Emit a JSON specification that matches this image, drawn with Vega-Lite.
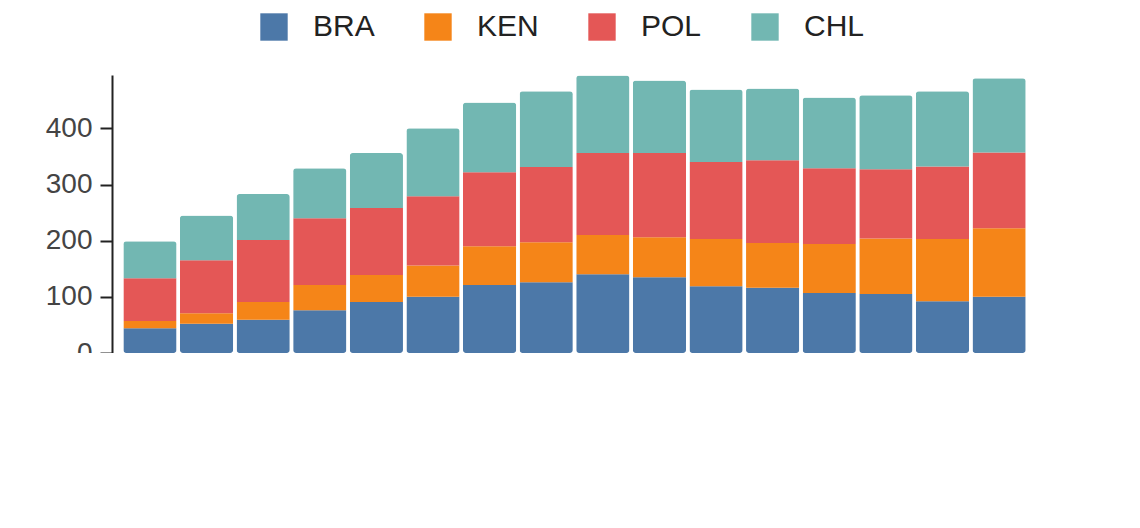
{
  "$schema": "https://vega.github.io/schema/vega-lite/v6.json",
  "width": 925,
  "height": 278,
  "autosize": {"type": "none"},
  "padding": {"left": 112, "top": 75, "right": 0, "bottom": 0},
  "data": {"values": [
    {"year":"2005","c":"BRA","v":44},{"year":"2005","c":"KEN","v":13},{"year":"2005","c":"POL","v":76},{"year":"2005","c":"CHL","v":66},
    {"year":"2006","c":"BRA","v":52},{"year":"2006","c":"KEN","v":19},{"year":"2006","c":"POL","v":94},{"year":"2006","c":"CHL","v":80},
    {"year":"2007","c":"BRA","v":59},{"year":"2007","c":"KEN","v":32},{"year":"2007","c":"POL","v":110},{"year":"2007","c":"CHL","v":82},
    {"year":"2008","c":"BRA","v":76},{"year":"2008","c":"KEN","v":45},{"year":"2008","c":"POL","v":119},{"year":"2008","c":"CHL","v":89},
    {"year":"2009","c":"BRA","v":91},{"year":"2009","c":"KEN","v":48},{"year":"2009","c":"POL","v":119},{"year":"2009","c":"CHL","v":98},
    {"year":"2010","c":"BRA","v":100},{"year":"2010","c":"KEN","v":56},{"year":"2010","c":"POL","v":123},{"year":"2010","c":"CHL","v":121},
    {"year":"2011","c":"BRA","v":121},{"year":"2011","c":"KEN","v":69},{"year":"2011","c":"POL","v":132},{"year":"2011","c":"CHL","v":124},
    {"year":"2012","c":"BRA","v":126},{"year":"2012","c":"KEN","v":71},{"year":"2012","c":"POL","v":134},{"year":"2012","c":"CHL","v":135},
    {"year":"2013","c":"BRA","v":140},{"year":"2013","c":"KEN","v":70},{"year":"2013","c":"POL","v":146},{"year":"2013","c":"CHL","v":138},
    {"year":"2014","c":"BRA","v":135},{"year":"2014","c":"KEN","v":71},{"year":"2014","c":"POL","v":150},{"year":"2014","c":"CHL","v":129},
    {"year":"2015","c":"BRA","v":119},{"year":"2015","c":"KEN","v":84},{"year":"2015","c":"POL","v":137},{"year":"2015","c":"CHL","v":129},
    {"year":"2016","c":"BRA","v":116},{"year":"2016","c":"KEN","v":80},{"year":"2016","c":"POL","v":147},{"year":"2016","c":"CHL","v":128},
    {"year":"2017","c":"BRA","v":107},{"year":"2017","c":"KEN","v":87},{"year":"2017","c":"POL","v":135},{"year":"2017","c":"CHL","v":126},
    {"year":"2018","c":"BRA","v":105},{"year":"2018","c":"KEN","v":99},{"year":"2018","c":"POL","v":123},{"year":"2018","c":"CHL","v":132},
    {"year":"2019","c":"BRA","v":92},{"year":"2019","c":"KEN","v":111},{"year":"2019","c":"POL","v":129},{"year":"2019","c":"CHL","v":134},
    {"year":"2020","c":"BRA","v":100},{"year":"2020","c":"KEN","v":122},{"year":"2020","c":"POL","v":135},{"year":"2020","c":"CHL","v":132}
  ]},
  "transform": [
    {"calculate": "indexof(['BRA','KEN','POL','CHL'], datum.c)", "as": "o"}
  ],
  "title": {
    "text": ["Vehicle fuel efficiency improves through technology", "advancement and regulatory standards."],
    "orient": "bottom", "anchor": "start", "font": "Liberation Sans", "fontSize": 28, "lineHeight": 34,
    "fontWeight": "normal", "color": "#444", "offset": 22, "dx": 0
  },
  "layer": [
    {
      "mark": {"type": "bar", "cornerRadius": 3},
      "encoding": {
        "x": {"field": "year", "type": "ordinal", "title": null,
          "scale": {"paddingInner": 0.06, "paddingOuter": 0.2},
          "axis": {"labelAngle": 0, "labelFontSize": 28, "offset": 12, "tickSize": 12, "labelPadding": 14}},
        "y": {"field": "v", "type": "quantitative", "stack": "zero", "title": null,
          "scale": {"domain": [0, 495], "nice": false},
          "axis": {"values": [0,100,200,300,400], "grid": false, "labelFontSize": 28, "offset": 0, "tickSize": 12, "labelPadding": 8}},
        "color": {"field": "c", "type": "nominal", "sort": ["BRA","KEN","POL","CHL"],
          "scale": {"domain": ["BRA","KEN","POL","CHL"], "range": ["#4c78a8","#f58518","#e45756","#72b7b2"]},
          "legend": {"orient": "none", "legendX": 147, "legendY": -63, "title": null, "direction": "horizontal", "symbolType": "square",
            "symbolSize": 750, "symbolOpacity": 1, "labelFontSize": 30, "columnPadding": 48, "labelOffset": 24}},
        "order": {"field": "o", "type": "quantitative"}
      }
    },
    {
      "transform": [
        {"stack": "v", "groupby": ["year"], "sort": [{"field": "o"}], "as": ["y0", "y1"]},
        {"filter": "datum.year == '2020'"},
        {"calculate": "(datum.y0 + datum.y1) / 2", "as": "mid"}
      ],
      "mark": {"type": "text", "align": "left", "dx": 44, "fontSize": 28, "font": "Liberation Sans"},
      "encoding": {
        "x": {"field": "year", "type": "ordinal"},
        "y": {"field": "mid", "type": "quantitative"},
        "text": {"field": "c"},
        "color": {"field": "c", "type": "nominal", "legend": null}
      }
    }
  ],
  "config": {
    "font": "Liberation Sans",
    "view": {"stroke": null},
    "axis": {"domainColor": "#222", "tickColor": "#222", "labelColor": "#444", "domainWidth": 2, "tickWidth": 2},
    "legend": {"labelColor": "#222"}
  }
}
